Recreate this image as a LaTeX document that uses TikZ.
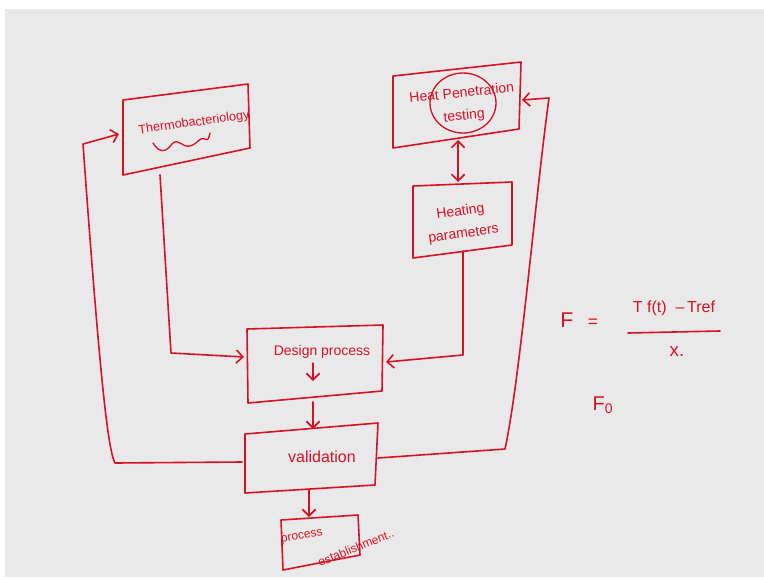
\documentclass[tikz,border=0pt]{standalone}
\usepackage{fontspec}
\setmainfont{Liberation Sans}
\usetikzlibrary{arrows.meta}
\definecolor{ink}{RGB}{214,18,38}
\definecolor{board}{RGB}{233,233,233}
\begin{document}
\begin{tikzpicture}[x=0.75pt,y=-0.75pt,
  pen/.style={draw=ink,line width=1.2pt,line join=round,line cap=round},
  arr/.style={pen,-{Straight Barb[length=5pt,width=10pt,line width=1.2pt]}},
  darr/.style={pen,{Straight Barb[length=5pt,width=10pt,line width=1.2pt]}-{Straight Barb[length=5pt,width=10pt,line width=1.2pt]}},
  hand/.style={text=ink,inner sep=0pt,align=center,font=\fontsize{10.5}{12}\selectfont}]
\useasboundingbox (0,0) rectangle (764,579);
\fill[white] (0,0) rectangle (764,579);
\fill[board] (5,9) rectangle (764,577);

% boxes (hand drawn quadrilaterals)
\draw[pen] (123,100) coordinate (tTL) -- (248,84) coordinate (tTR) -- (250,148) coordinate (tBR) -- (123,175) coordinate (tBL) -- cycle;
\draw[pen] (393,76) coordinate (hTL) -- (521,62) coordinate (hTR) -- (519,129) coordinate (hBR) -- (393,148) coordinate (hBL) -- cycle;
\draw[pen] (413,186) coordinate (pTL) -- (512,182) coordinate (pTR) -- (512,245) coordinate (pBR) -- (413,258) coordinate (pBL) -- cycle;
\draw[pen] (247,329) coordinate (dTL) -- (383,325) coordinate (dTR) -- (382,391) coordinate (dBR) -- (248,403) coordinate (dBL) -- cycle;
\draw[pen] (245,434) coordinate (vTL) -- (378,423) coordinate (vTR) -- (375,485) coordinate (vBR) -- (245,493) coordinate (vBL) -- cycle;
\draw[pen] (281,520) coordinate (eTL) -- (358,515) coordinate (eTR) -- (360,555) coordinate (eBR) -- (283,570) coordinate (eBL) -- cycle;

% texts
\node[hand,rotate=8,font=\fontsize{9.5}{11}\selectfont] (thermo) at (194,123) {Thermobacteriology};
\draw[pen,line width=1pt] (153,143) .. controls (160,154) and (166,152) .. (172,144)
  .. controls (178,137) and (182,148) .. (190,146) .. controls (198,144) and (200,136) .. (205,139)
  .. controls (208,141) and (209,138) .. (210,133);
\node[hand,rotate=6] (heat) at (463,105) {Heat Penetration\\[5pt]testing};
\draw[pen,line width=1pt] (463,103) ellipse [x radius=33, y radius=30];
\node[hand,rotate=8] (heating) at (462,223) {Heating\\[5pt]parameters};
\node[hand] (design) at (322,352) {Design process};
\node[hand,font=\fontsize{12}{14}\selectfont] (valid) at (322,457) {validation};
\node[hand,rotate=10,font=\fontsize{9}{10}\selectfont] (proc) at (302,537) {process};
\node[hand,rotate=22,anchor=south west,font=\fontsize{9}{10}\selectfont] (estab) at (320,567) {establishment..};

% small arrow inside design box
\coordinate (sa) at (313,363);
\coordinate (sb) at (313,381);
\draw[arr,line width=1pt] (sa) -- (sb);

% connectors
\coordinate (t1) at (160,175);
\coordinate (t2) at (171,353);
\coordinate (dL) at (244,357);
\draw[arr] (t1) -- (t2) -- (dL);

\coordinate (p1) at (463,251);
\coordinate (p2) at (463,355);
\coordinate (dR) at (386,362);
\draw[arr] (p1) -- (p2) -- (dR);

\coordinate (hB) at (458,140);
\coordinate (pT) at (458,182);
\draw[darr] (hB) -- (pT);

\coordinate (dB) at (313,402);
\coordinate (vT) at (313,429);
\draw[arr] (dB) -- (vT);

\coordinate (vB) at (309,490);
\coordinate (eT) at (309,517);
\draw[arr] (vB) -- (eT);

% left feedback loop
\coordinate (vL) at (242,462);
\coordinate (l1) at (115,463);
\coordinate (l2) at (83,144);
\coordinate (tL) at (119,134);
\draw[arr] (vL) -- (l1) .. controls (108,450) and (100,380) .. (l2) -- (tL);

% right feedback loop
\coordinate (vR) at (378,458);
\coordinate (r1) at (505,449);
\coordinate (r2) at (549,98);
\coordinate (hR) at (522,100);
\draw[arr] (vR) -- (r1) .. controls (520,380) and (535,200) .. (r2) -- (hR);

% formula
\node[hand,font=\fontsize{16}{17}\selectfont] (F) at (567,320) {F};
\node[hand,font=\fontsize{13}{14}\selectfont] (eq) at (593,323) {=};
\node[hand,font=\fontsize{12}{13}\selectfont] (num) at (674,308) {T f(t)\ \ \textendash\,Tref};
\coordinate (f1) at (628,333);
\coordinate (f2) at (720,331);
\draw[pen] (f1) -- (f2);
\node[hand,font=\fontsize{14}{15}\selectfont] (den) at (677,352) {x.};
\node[hand,font=\fontsize{15}{16}\selectfont] (F0) at (603,405) {F\textsubscript{0}};
\end{tikzpicture}
\end{document}
